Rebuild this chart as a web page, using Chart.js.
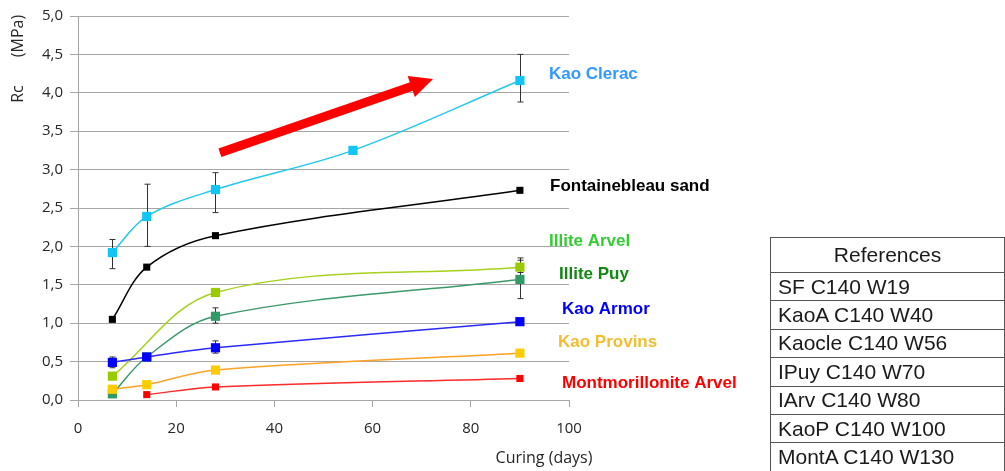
<!DOCTYPE html>
<html>
<head>
<meta charset="utf-8">
<script src="https://cdn.jsdelivr.net/npm/chart.js@4"></script>
<style>
  html, body { margin: 0; padding: 0; background: #fff; }
  #wrap { position: relative; width: 1005px; height: 471px; overflow: hidden; }
  #refs { position: absolute; left: 770px; top: 237px; width: 235px; border-collapse: collapse;
          font-family: "Liberation Sans", Arial, sans-serif; font-size: 21px; color: #1a1a1a; }
  #refs th { border: 1px solid #555; height: 34px; padding: 0; font-weight: normal; text-align: center; }
  #refs td { border: 1px solid #555; height: 27.4px; padding: 0 0 0 7px; white-space: nowrap; }
</style>
</head>
<body>
<div id="wrap">
  <canvas id="c" width="1005" height="471"></canvas>
  <table id="refs">
    <tr><th>References</th></tr>
    <tr><td>SF C140 W19</td></tr>
    <tr><td>KaoA C140 W40</td></tr>
    <tr><td>Kaocle C140 W56</td></tr>
    <tr><td>IPuy C140 W70</td></tr>
    <tr><td>IArv C140 W80</td></tr>
    <tr><td>KaoP C140 W100</td></tr>
    <tr><td>MontA C140 W130</td></tr>
  </table>
</div>
<script>
// curing days
const days = [7, 14, 28, 56, 90];

// Rc (MPa) per material
const kaoClerac     = [1.92, 2.39, 2.74, 3.25, 4.16];
const fontainebleau = [1.05, 1.73, 2.14, null, 2.73];
const illiteArvel   = [0.31, null, 1.40, null, 1.73];
const illitePuy     = [0.08, 0.56, 1.09, null, 1.57];
const kaoArmor      = [0.49, 0.56, 0.68, null, 1.02];
const kaoProvins    = [0.14, 0.20, 0.39, null, 0.61];
const montArvel     = [null, 0.07, 0.17, null, 0.28];

// error bars (low / high)
const kaoCleracLow    = [1.71, 2.00, 2.44, null, 3.88];
const kaoCleracHigh   = [2.09, 2.81, 2.96, null, 4.50];
const illiteArvelLow  = [null, null, null, null, 1.66];
const illiteArvelHigh = [null, null, null, null, 1.85];
const illitePuyLow    = [null, null, 1.00, null, 1.32];
const illitePuyHigh   = [null, null, 1.20, null, 1.82];
const kaoArmorLow     = [0.42, null, 0.61, null, null];
const kaoArmorHigh    = [0.56, null, 0.77, null, null];

const yTicks = [0, 0.5, 1, 1.5, 2, 2.5, 3, 3.5, 4, 4.5, 5];

// trend arrow, in data units (days, MPa)
const arrowFrom = [28.9, 3.22];
const arrowTo = [72.3, 4.18];

Chart.defaults.font.family = '"Open Sans", sans-serif';
Chart.defaults.font.size = 15;
Chart.defaults.color = '#262626';

function pts(vals) {
    return days.map((d, i) => ({ x: d, y: vals[i] }));
}

function series(label, vals, line, marker, r, low, high) {
    return {
        label: label,
        data: pts(vals),
        borderColor: line,
        backgroundColor: marker,
        pointBackgroundColor: marker,
        pointBorderWidth: 0,
        pointStyle: 'rect',
        pointRadius: r,
        borderWidth: 1.5,
        tension: 0.35,
        spanGaps: true,
        errLow: low,
        errHigh: high
    };
}

// order matters: first dataset is drawn on top
const datasets = [
    series('Kao Armor', kaoArmor, '#2a2aff', '#0000ff', 6.5, kaoArmorLow, kaoArmorHigh),
    series('Kao Provins', kaoProvins, '#ffa126', '#ffcc00', 6.5),
    series('Montmorillonite Arvel', montArvel, '#ff2a2a', '#ff0000', 5),
    series('Kao Clerac', kaoClerac, '#22c8f2', '#11c5f7', 6.5, kaoCleracLow, kaoCleracHigh),
    series('Fontainebleau sand', fontainebleau, '#000000', '#000000', 5),
    series('Illite Arvel', illiteArvel, '#a6d11f', '#99cc00', 6.5, illiteArvelLow, illiteArvelHigh),
    series('Illite Puy', illitePuy, '#3a9a6a', '#339966', 6.5, illitePuyLow, illitePuyHigh)
];

const labelStyle = [
    { text: 'Kao Clerac', color: '#3399ff', x: 549, y: 74 },
    { text: 'Fontainebleau sand', color: '#000000', x: 550, y: 186 },
    { text: 'Illite Arvel', color: '#33cc33', x: 549, y: 241 },
    { text: 'Illite Puy', color: '#118811', x: 559, y: 274 },
    { text: 'Kao Armor', color: '#0000ff', x: 562, y: 309 },
    { text: 'Kao Provins', color: '#f2bd30', x: 558, y: 342 },
    { text: 'Montmorillonite Arvel', color: '#ff0000', x: 562, y: 383 }
];

const errorBars = {
    id: 'errorBars',
    beforeDatasetsDraw(chart) {
        const ctx = chart.ctx;
        const xs = chart.scales.x, ys = chart.scales.y;
        ctx.save();
        ctx.strokeStyle = '#333';
        ctx.lineWidth = 1;
        chart.data.datasets.forEach(ds => {
            if (!ds.errLow) return;
            days.forEach((d, i) => {
                if (ds.errLow[i] == null) return;
                const px = Math.round(xs.getPixelForValue(d)) + 0.5;
                const y1 = ys.getPixelForValue(ds.errLow[i]);
                const y2 = ys.getPixelForValue(ds.errHigh[i]);
                ctx.beginPath();
                ctx.moveTo(px, y1); ctx.lineTo(px, y2);
                ctx.moveTo(px - 3, y1); ctx.lineTo(px + 3, y1);
                ctx.moveTo(px - 3, y2); ctx.lineTo(px + 3, y2);
                ctx.stroke();
            });
        });
        ctx.restore();
    }
};

const extras = {
    id: 'extras',
    afterDatasetsDraw(chart) {
        const ctx = chart.ctx;
        const xs = chart.scales.x, ys = chart.scales.y;

        // red arrow
        const x0 = xs.getPixelForValue(arrowFrom[0]), y0 = ys.getPixelForValue(arrowFrom[1]);
        const x1 = xs.getPixelForValue(arrowTo[0]), y1 = ys.getPixelForValue(arrowTo[1]);
        const a = Math.atan2(y1 - y0, x1 - x0);
        const headLen = 23, headW = 11;
        const bx = x1 - headLen * Math.cos(a), by = y1 - headLen * Math.sin(a);
        ctx.save();
        ctx.strokeStyle = '#ff0000';
        ctx.fillStyle = '#ff0000';
        ctx.lineWidth = 9;
        ctx.beginPath();
        ctx.moveTo(x0, y0);
        ctx.lineTo(bx + Math.cos(a), by + Math.sin(a));
        ctx.stroke();
        ctx.beginPath();
        ctx.moveTo(x1, y1);
        ctx.lineTo(bx - headW * Math.sin(a), by + headW * Math.cos(a));
        ctx.lineTo(bx + headW * Math.sin(a), by - headW * Math.cos(a));
        ctx.closePath();
        ctx.fill();

        // series labels
        ctx.font = 'bold 17px "Liberation Sans", Arial, sans-serif';
        ctx.textBaseline = 'middle';
        ctx.textAlign = 'left';
        labelStyle.forEach(l => {
            ctx.fillStyle = l.color;
            ctx.fillText(l.text, l.x, l.y);
        });

        // axis titles
        ctx.fillStyle = '#262626';
        ctx.font = '16px "Open Sans", sans-serif';
        ctx.textAlign = 'center';
        ctx.fillText('Curing (days)', 544, 458);
        ctx.translate(18, 0);
        ctx.rotate(-Math.PI / 2);
        ctx.fillText('(MPa)', -36, 0);
        ctx.fillText('Rc', -94, 0);
        ctx.restore();
    }
};

new Chart(document.getElementById('c'), {
    type: 'line',
    data: { datasets: datasets },
    options: {
        responsive: false,
        animation: false,
        devicePixelRatio: 1,
        layout: { padding: { top: 15, right: 436, left: 0, bottom: 0 } },
        plugins: { legend: { display: false }, tooltip: { enabled: false } },
        scales: {
            x: {
                type: 'linear',
                min: 0, max: 100,
                ticks: { stepSize: 20, padding: 13 },
                grid: { drawOnChartArea: false, tickLength: 7, color: '#a6a6a6' },
                border: { color: '#a6a6a6' },
                afterFit: s => { s.height = 71; }
            },
            y: {
                min: 0, max: 5,
                afterBuildTicks: s => { s.ticks = yTicks.map(v => ({ value: v })); },
                ticks: {
                    padding: 7,
                    callback: v => v.toFixed(1).replace('.', ',')
                },
                grid: { color: '#a6a6a6', tickLength: 8 },
                border: { color: '#a6a6a6' },
                afterFit: s => { s.width = 78; }
            }
        }
    },
    plugins: [errorBars, extras]
});
</script>
</body>
</html>
